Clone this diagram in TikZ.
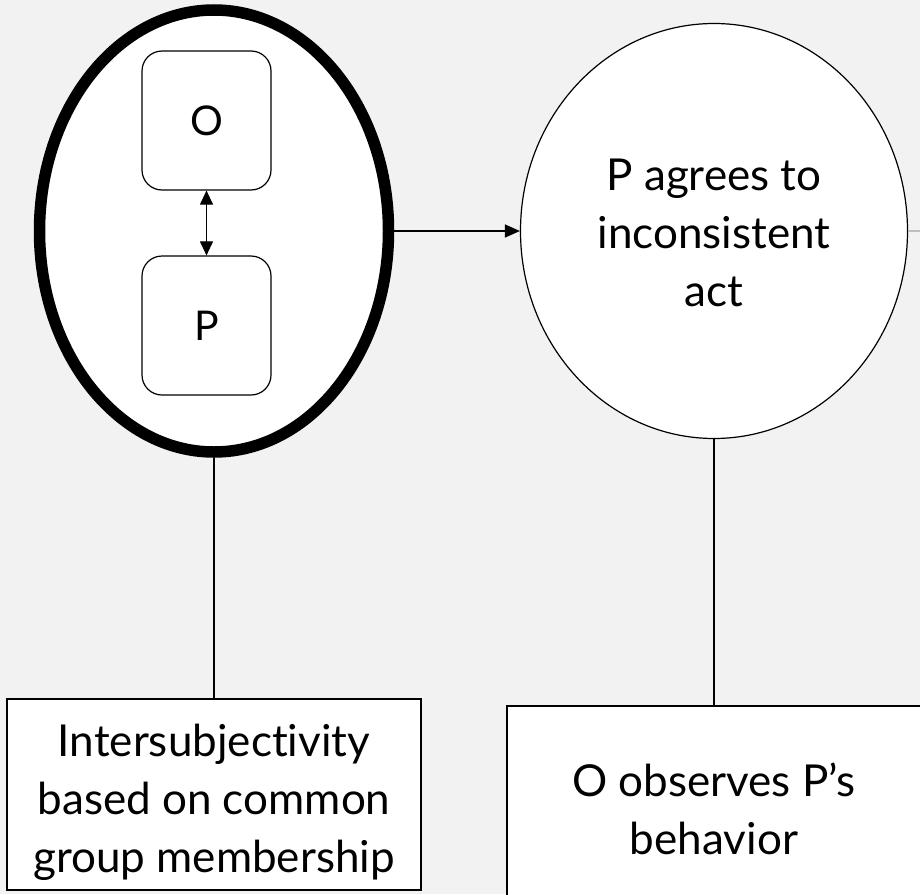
\documentclass[tikz,border=0pt]{standalone}
\usepackage{fontspec}
\setmainfont{Lato}[RawFeature={-liga,-dlig,-clig}]
\usetikzlibrary{shapes.geometric,arrows.meta}
\definecolor{bg}{HTML}{F2F2F2}
\definecolor{lgray}{HTML}{BFBFBF}
\begin{document}
\begin{tikzpicture}[x=1pt,y=-1pt,
  bigtxt/.style={font=\fontsize{44}{58}\selectfont, align=center},
  group/.style={ellipse, draw, line width=11.5pt, fill=white, inner sep=0pt, minimum width=349pt, minimum height=442pt},
  actor/.style={draw, rounded corners=20pt, line width=1.2pt, fill=white, minimum width=129pt, minimum height=139pt, inner sep=0pt, font=\fontsize{41}{48}\selectfont},
  event/.style={ellipse, draw, line width=1.2pt, fill=white, inner sep=0pt, minimum width=387pt, minimum height=415pt, bigtxt},
  note/.style={draw, line width=1.5pt, fill=white, inner sep=0pt, minimum width=414pt, bigtxt},
  link/.style={line width=1.2pt},
  arr/.style={line width=1.2pt, -{Triangle[length=15pt,width=13pt]}},
  darr/.style={line width=1.1pt, {Triangle[length=14pt,width=13pt]}-{Triangle[length=14pt,width=13pt]}}
]
\fill[bg] (0,0) rectangle (920,894);
\useasboundingbox (0,0) rectangle (920,894);
\clip (0,0) rectangle (920,894);

\node[group] (grp) at (214,231) {};
\node[actor] (o) at (206.5,120.5) {O};
\node[actor] (p) at (206.5,325.5) {P};
\draw[darr] (o.south) -- (p.north);

\node[event] (act) at (714,231) {\rule{0pt}{36pt}P agrees to\\inconsistent\\act};
\draw[arr] (grp.east) -- (act.west);

\coordinate (off) at (925,231);
\draw[lgray, line width=1.5pt] (act.east) -- (off);

\node[note, minimum height=191pt] (inter) at (214,794.5) {\rule{0pt}{48pt}Intersubjectivity\\based on common\\group membership};
\node[note, minimum height=200pt] (obs) at (714,806) {\rule{0pt}{40pt}O observes P’s\\behavior};

\draw[link] (grp.south) -- (inter.north);
\draw[link] (act.south) -- (obs.north);
\end{tikzpicture}
\end{document}
